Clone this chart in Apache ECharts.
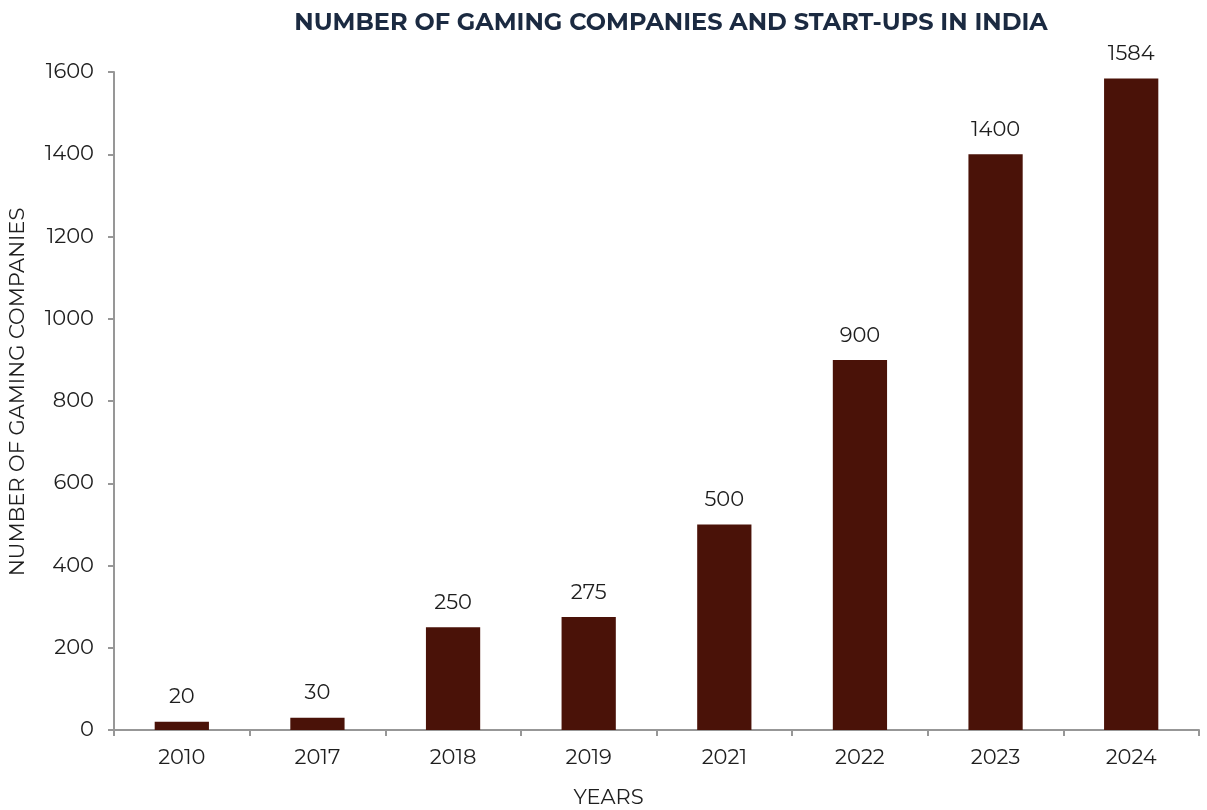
<!DOCTYPE html>
<html>
<head>
<meta charset="utf-8">
<script src="https://cdn.jsdelivr.net/npm/echarts@6/dist/echarts.min.js"></script>
<style>
  html, body { margin: 0; padding: 0; background: #fff; }
  #chart { width: 1207px; height: 810px; }
</style>
</head>
<body>
<div id="chart"></div>
<script>
// Gaming companies and start-ups in India, by year
const years = ['2010', '2017', '2018', '2019', '2021', '2022', '2023', '2024'];
const companies = [20, 30, 250, 275, 500, 900, 1400, 1584];
const yTicks = { min: 0, max: 1600, interval: 200 };

const font = 'Montserrat, "Open Sans", "Noto Sans", sans-serif';
const axisGrey = '#979797';
const textColor = '#1e1e1e';

const chart = echarts.init(document.getElementById('chart'));
chart.setOption({
  backgroundColor: '#ffffff',
  textStyle: { fontFamily: font },
  title: {
    text: 'NUMBER OF GAMING COMPANIES AND START-UPS IN INDIA',
    left: 666,
    textAlign: 'center',
    top: 6,
    textStyle: { fontSize: 24, fontWeight: 'bold', color: '#1b2a41', fontFamily: font }
  },
  grid: {
    left: 114, right: 8, top: 72, bottom: 80,
    containLabel: false,
    outerBoundsMode: 'none'
  },
  xAxis: {
    type: 'category',
    data: years,
    name: 'YEARS',
    nameLocation: 'middle',
    nameGap: 57,
    nameTextStyle: { fontSize: 21, color: textColor, padding: [0, 96, 0, 0] },
    axisLine: { lineStyle: { color: axisGrey, width: 2 } },
    axisTick: { show: true, alignWithLabel: false, length: 6, lineStyle: { color: axisGrey, width: 2 } },
    axisLabel: { fontSize: 21, color: textColor, margin: 17 }
  },
  yAxis: {
    type: 'value',
    min: yTicks.min,
    max: yTicks.max,
    interval: yTicks.interval,
    name: 'NUMBER OF GAMING COMPANIES',
    nameLocation: 'middle',
    nameGap: 86,
    nameTextStyle: { fontSize: 21, color: textColor, padding: [0, 0, 0, 18] },
    axisLine: { show: true, lineStyle: { color: axisGrey, width: 2 } },
    axisTick: { show: true, length: 6, lineStyle: { color: axisGrey, width: 2 } },
    axisLabel: { fontSize: 21, color: textColor, margin: 20, formatter: v => String(v) },
    splitLine: { show: false }
  },
  series: [{
    type: 'bar',
    data: companies,
    barWidth: '40%',
    itemStyle: { color: '#4a1208' },
    label: {
      show: true,
      position: 'top',
      distance: 14,
      fontSize: 21,
      color: textColor,
      fontFamily: font
    }
  }]
});
</script>
</body>
</html>
